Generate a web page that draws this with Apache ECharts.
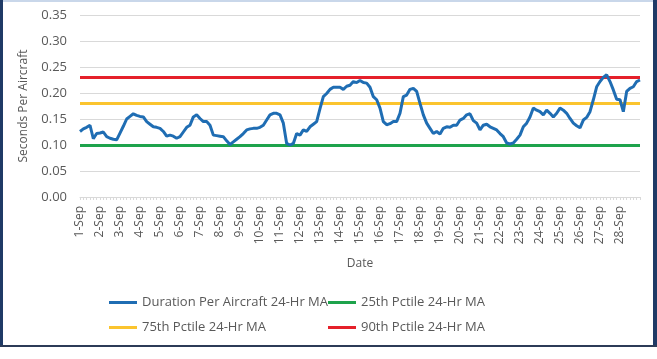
<!DOCTYPE html>
<html><head><meta charset="utf-8">
<script src="https://cdn.jsdelivr.net/npm/echarts@6/dist/echarts.min.js"></script>
<style>html,body{margin:0;padding:0;background:#fff}#c{width:657px;height:359px}</style>
</head><body><div id="c"></div>
<script>
// Day labels (x axis ticks) and 4-hour sample times
const days = ['1-Sep','2-Sep','3-Sep','4-Sep','5-Sep','6-Sep','7-Sep','8-Sep','9-Sep','10-Sep','11-Sep','12-Sep','13-Sep','14-Sep','15-Sep','16-Sep','17-Sep','18-Sep','19-Sep','20-Sep','21-Sep','22-Sep','23-Sep','24-Sep','25-Sep','26-Sep','27-Sep','28-Sep'];
const hours = ['0:00','4:00','8:00','12:00','16:00','20:00'];
const endTime = '29-Sep 0:00';

// Duration Per Aircraft 24-Hr MA (seconds), one value every 4 hours
const duration = [
 0.126,0.131,0.134,0.138,0.112,0.122,
 0.123,0.125,0.116,0.113,0.111,0.110,
 0.123,0.136,0.150,0.155,0.160,0.157,
 0.155,0.154,0.145,0.140,0.135,0.134,
 0.132,0.126,0.117,0.119,0.117,0.113,
 0.116,0.125,0.134,0.138,0.154,0.158,
 0.151,0.145,0.145,0.138,0.119,0.118,
 0.117,0.116,0.108,0.101,0.106,0.111,
 0.116,0.122,0.129,0.131,0.132,0.132,
 0.134,0.138,0.148,0.158,0.161,0.161,
 0.158,0.142,0.103,0.100,0.103,0.122,
 0.119,0.129,0.126,0.135,0.140,0.145,
 0.170,0.193,0.199,0.207,0.211,0.211,
 0.211,0.207,0.213,0.215,0.222,0.220,
 0.224,0.220,0.219,0.211,0.193,0.187,
 0.171,0.145,0.139,0.141,0.145,0.145,
 0.161,0.193,0.196,0.207,0.209,0.203,
 0.180,0.158,0.142,0.132,0.122,0.126,
 0.121,0.132,0.135,0.134,0.138,0.138,
 0.148,0.151,0.158,0.160,0.147,0.142,
 0.129,0.138,0.140,0.135,0.132,0.129,
 0.122,0.116,0.104,0.102,0.104,0.111,
 0.119,0.135,0.142,0.154,0.171,0.167,
 0.164,0.158,0.167,0.161,0.154,0.161,
 0.171,0.167,0.161,0.151,0.142,0.137,
 0.133,0.148,0.153,0.164,0.187,0.212,
 0.222,0.230,0.235,0.222,0.206,0.188,
 0.187,0.164,0.203,0.209,0.212,0.222,
 0.225
];
// Percentile reference levels (24-Hr MA)
const p25 = 0.102;
const p75 = 0.181;
const p90 = 0.226;

const yTicks = {min: 0, max: 0.35, interval: 0.05};

const categories = [];
days.forEach(d => hours.forEach(h => categories.push(d + ' ' + h)));
categories.push(endTime);

const grey = '#595959';
const chart = echarts.init(document.getElementById('c'), null, {renderer: 'canvas'});
const refLine = (val, color) => ({
  symbol: 'none', silent: true, animation: false,
  label: {show: false},
  lineStyle: {color: color, width: 3, type: 'solid'},
  data: [{yAxis: val}]
});
const legendBase = {orient: 'vertical', top: 296, padding: 0, itemWidth: 28, itemHeight: 3, itemGap: 12,
  icon: 'rect', textStyle: {color: grey, fontSize: 13, fontFamily: 'Open Sans'}};
chart.setOption({
  animation: false,
  backgroundColor: '#ffffff',
  textStyle: {fontFamily: 'Open Sans'},
  grid: {left: 80, right: 17, top: 15, bottom: 162, containLabel: false},
  xAxis: {
    type: 'category', data: categories, boundaryGap: false,
    name: 'Date', nameLocation: 'middle', nameGap: 61,
    nameTextStyle: {color: grey, fontSize: 12, fontFamily: 'Open Sans'},
    axisLine: {lineStyle: {color: '#d9d9d9', width: 1}},
    axisTick: {show: true, interval: 0, length: 3, lineStyle: {color: '#d9d9d9'}},
    axisLabel: {
      rotate: 90, color: grey, fontSize: 12, margin: 9, fontFamily: 'Open Sans',
      interval: (i) => i % 6 === 0 && i < categories.length - 1,
      formatter: (v) => v.split(' ')[0]
    },
    splitLine: {show: false}
  },
  yAxis: {
    type: 'value', min: yTicks.min, max: yTicks.max, interval: yTicks.interval,
    name: 'Seconds Per Aircraft', nameLocation: 'middle', nameGap: 50, nameRotate: 90,
    nameTextStyle: {color: grey, fontSize: 12, fontFamily: 'Open Sans'},
    axisLine: {show: false}, axisTick: {show: false},
    axisLabel: {color: grey, fontSize: 13, margin: 13, formatter: v => v.toFixed(2), fontFamily: 'Open Sans'},
    splitLine: {lineStyle: {color: '#d9d9d9', width: 1}}
  },
  legend: [
    Object.assign({left: 109, data: ['Duration Per Aircraft 24-Hr MA', '75th Pctile 24-Hr MA']}, legendBase),
    Object.assign({left: 328, data: ['25th Pctile 24-Hr MA', '90th Pctile 24-Hr MA']}, legendBase)
  ],
  series: [
    {name: 'Duration Per Aircraft 24-Hr MA', type: 'line', data: duration, showSymbol: false,
     symbol: 'none', smooth: false, z: 5,
     lineStyle: {color: '#1f6db3', width: 3}, itemStyle: {color: '#1f6db3'}},
    {name: '25th Pctile 24-Hr MA', type: 'line', data: [], itemStyle: {color: '#1ea34c'},
     lineStyle: {color: '#1ea34c'}, markLine: refLine(p25, '#1ea34c')},
    {name: '75th Pctile 24-Hr MA', type: 'line', data: [], itemStyle: {color: '#fbc42e'},
     lineStyle: {color: '#fbc42e'}, markLine: refLine(p75, '#fbc42e')},
    {name: '90th Pctile 24-Hr MA', type: 'line', data: [], itemStyle: {color: '#e5202a'},
     lineStyle: {color: '#e5202a'}, markLine: refLine(p90, '#e5202a')}
  ],
  graphic: [
    {type: 'rect', left: 0, top: 0, shape: {width: 657, height: 2}, style: {fill: '#c9d7ea'}, silent: true},
    {type: 'rect', left: 0, top: 0, shape: {width: 3, height: 347}, style: {fill: '#1f3a66'}, silent: true},
    {type: 'rect', left: 653, top: 0, shape: {width: 4, height: 347}, style: {fill: '#1f3a66'}, silent: true},
    {type: 'rect', left: 0, top: 345, shape: {width: 657, height: 2}, style: {fill: '#2c3b57'}, silent: true}
  ]
});
</script></body></html>
